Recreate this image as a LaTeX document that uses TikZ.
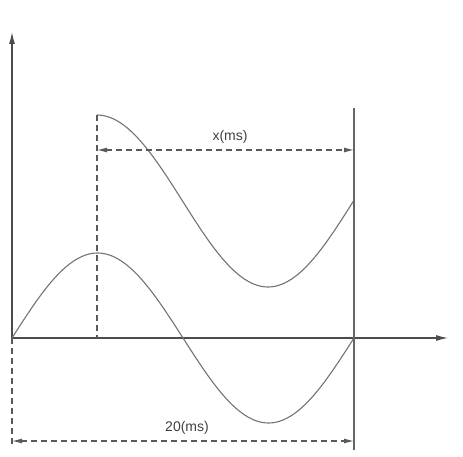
\documentclass[tikz,border=0pt]{standalone}
\usepackage{fontspec}
\setmainfont{Liberation Sans}
\usetikzlibrary{arrows.meta}
\begin{document}
\begin{tikzpicture}[x=1pt,y=-1pt,
  axis/.style={draw=black!70,line width=1.1pt,-{Latex[length=12pt,width=6pt]}},
  wave/.style={draw=black!55,line width=1.1pt},
  guide/.style={draw=black!65,line width=1.1pt,dash pattern=on 6pt off 4pt},
  dim/.style={draw=black!65,line width=1.1pt,dash pattern=on 6pt off 4pt,{Latex[length=10pt,width=5pt]}-{Latex[length=10pt,width=5pt]}},
  lbl/.style={font=\fontsize{14}{16}\selectfont,text=black!75,inner sep=1pt}]
\useasboundingbox (0,0) rectangle (463,457);
\coordinate (O) at (12,338);
\coordinate (ytop) at (12,32);
\coordinate (xend) at (448,338);
\coordinate (ybot) at (12,445);
\coordinate (pk) at (97,115);
\coordinate (pkb) at (97,338);
\coordinate (vt) at (354,108);
\coordinate (vb) at (354,450);
\coordinate (d1a) at (97,150);
\coordinate (d1b) at (354,150);
\coordinate (d2a) at (12,441);
\coordinate (d2b) at (354,441);
% axes
\draw[axis] (O) -- (ytop);
\draw[axis] (O) -- (xend);
% waves
\draw[wave] plot[domain=12:354,samples=120,smooth] (\x,{338-85*sin((\x-12)/342*360)});
\draw[wave] plot[domain=97:354,samples=100,smooth] (\x,{201-86*cos((\x-97)/342*360)});
% vertical lines
\draw[draw=black!60,line width=1.1pt] (vt) -- (vb);
\draw[guide] (pk) -- (pkb);
\draw[guide] (O) -- (ybot);
% dimensions
\draw[dim] (d1a) -- (d1b);
\draw[dim] (d2a) -- (d2b);
\node[lbl] (lx) at (230,137) {x(ms)};
\node[lbl] (l20) at (187,428) {20(ms)};
\end{tikzpicture}
\end{document}
